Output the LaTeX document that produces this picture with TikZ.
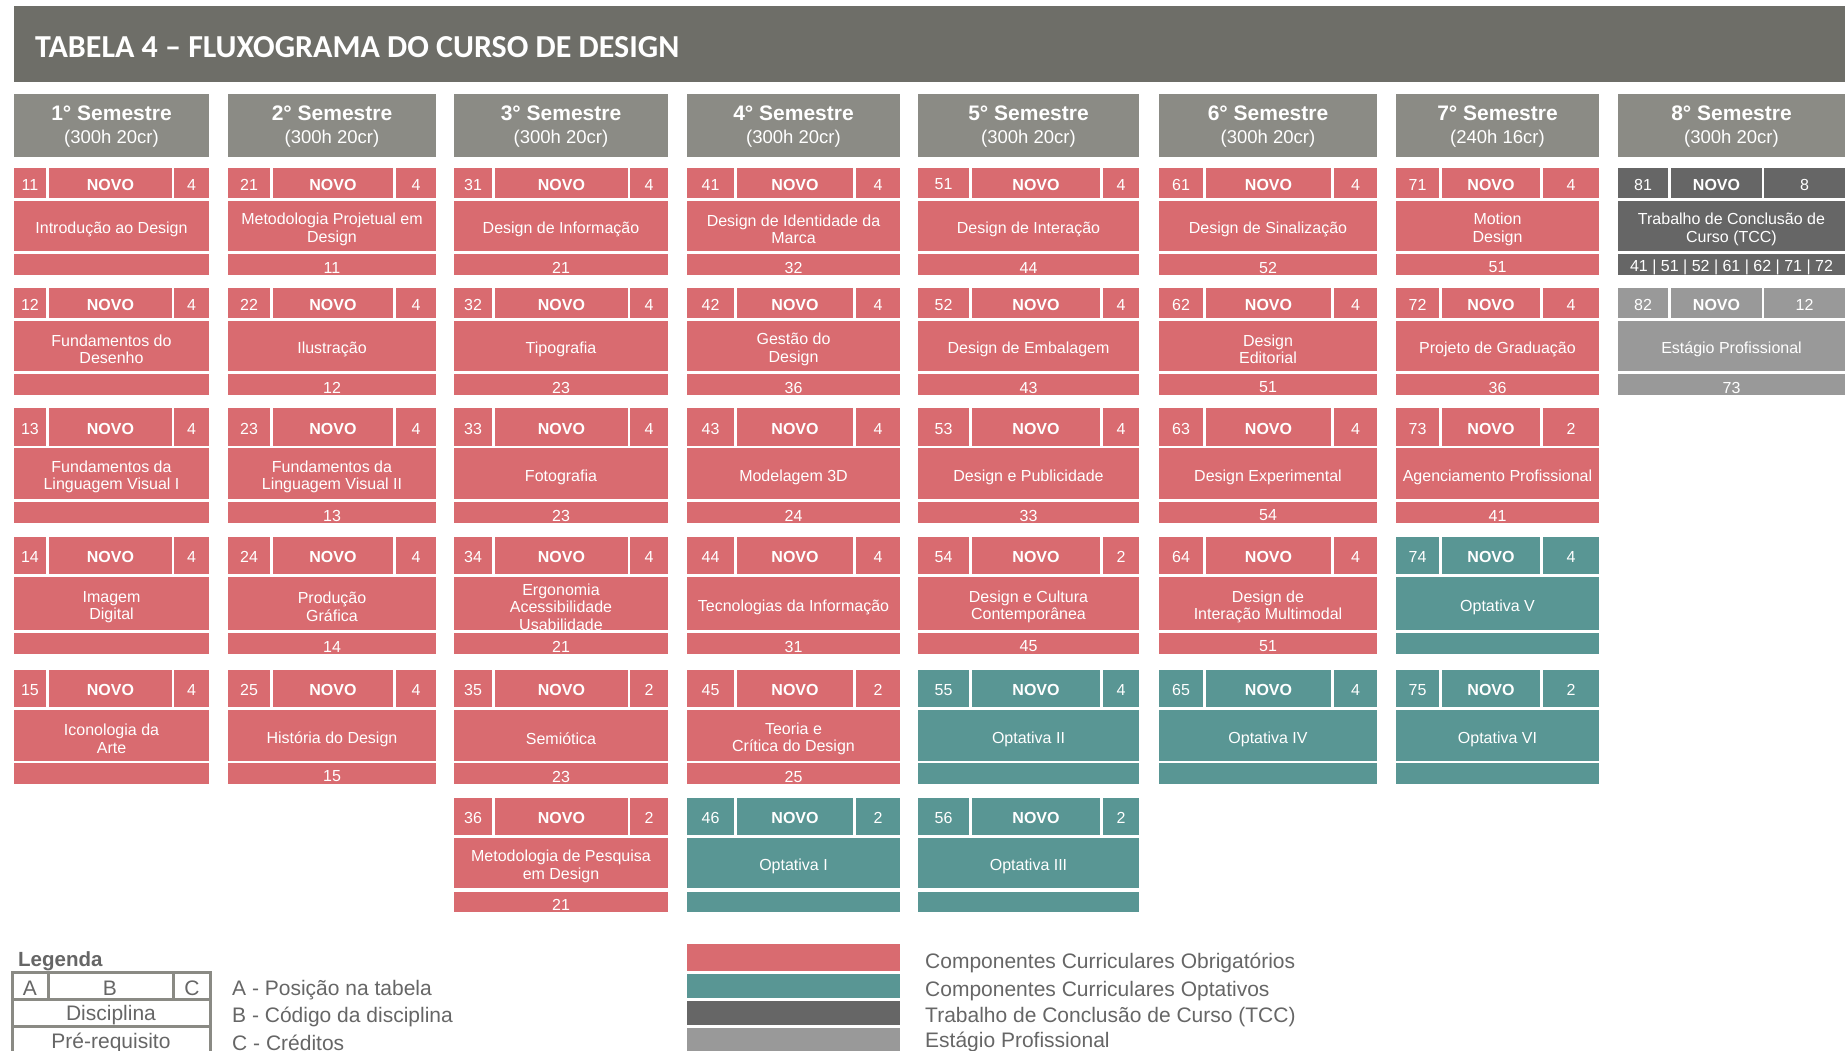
\documentclass[tikz,border=0pt]{standalone}
\usepackage{fontspec}
\setmainfont{Liberation Sans}
\newfontfamily\titlefont{Carlito}
\definecolor{obr}{RGB}{217,107,112}
\definecolor{opt}{RGB}{89,150,148}
\definecolor{tcc}{RGB}{102,102,102}
\definecolor{est}{RGB}{153,153,153}
\definecolor{hdr}{RGB}{139,139,133}
\definecolor{ttl}{RGB}{110,110,104}
\definecolor{legtxt}{RGB}{102,102,102}
\definecolor{legline}{RGB}{138,138,132}
\tikzset{
  cell/.style={anchor=north west, inner sep=0pt, outer sep=0pt, draw=none},
  celltext/.style={inner sep=0pt, text=white, align=center, font=\fontsize{16}{17.5}\selectfont},
  boldtext/.style={celltext, font=\fontsize{16}{17.5}\selectfont\bfseries},
  hdrtext/.style={celltext, font=\fontsize{18.5}{23}\selectfont},
  legtext/.style={anchor=west, inner sep=0pt, text=legtxt, font=\fontsize{21}{24}\selectfont},
  legcell/.style={inner sep=0pt, text=legtxt, font=\fontsize{21}{24}\selectfont},
  swatch/.style={anchor=north west, inner sep=0pt, outer sep=0pt, draw=none},
  legrule/.style={draw=legline, line width=3pt}
}
\newcommand\setcol[6]{\def\xA{#1}\def\xB{#2}\def\xC{#3}\def\xD{#4}\def\xE{#5}\def\xF{#6}}
\newcommand\setrow[6]{\def\yA{#1}\def\yB{#2}\def\yC{#3}\def\yD{#4}\def\yE{#5}\def\yF{#6}}
\newcommand\rowI{\setrow{168}{198}{201}{251}{254}{275}}
\newcommand\rowII{\setrow{288}{318}{321}{371}{374}{395}}
\newcommand\rowIII{\setrow{408}{446}{448}{499}{502}{523}}
\newcommand\rowIV{\setrow{537}{574}{577}{630}{633}{654}}
\newcommand\rowV{\setrow{670}{707}{710}{761}{763}{784}}
\newcommand\rowVI{\setrow{798}{835}{838}{888}{892}{912}}
% #1 id, #2 credits, #3 name, #4 prerequisite, #5 colour
\newcommand\course[5]{%
  \node[cell, fill=#5, minimum width={(\xB-\xA)*1pt}, minimum height={(\yB-\yA)*1pt}] (a#1) at (\xA,\yA) {};
  \node[cell, fill=#5, minimum width={(\xD-\xC)*1pt}, minimum height={(\yB-\yA)*1pt}] (b#1) at (\xC,\yA) {};
  \node[cell, fill=#5, minimum width={(\xF-\xE)*1pt}, minimum height={(\yB-\yA)*1pt}] (c#1) at (\xE,\yA) {};
  \node[cell, fill=#5, minimum width={(\xF-\xA)*1pt}, minimum height={(\yD-\yC)*1pt}] (d#1) at (\xA,\yC) {};
  \node[cell, fill=#5, minimum width={(\xF-\xA)*1pt}, minimum height={(\yF-\yE)*1pt}] (p#1) at (\xA,\yE) {};
  \node[celltext, yshift=-1.5pt] (ta#1) at (a#1.center) {#1};
  \node[boldtext, yshift=-1.5pt] (tb#1) at (b#1.center) {NOVO};
  \node[celltext, yshift=-1.5pt] (tc#1) at (c#1.center) {#2};
  \node[celltext, yshift=-3.5pt] (td#1) at (d#1.center) {#3};
  \node[celltext, yshift=-3pt] (tp#1) at (p#1.center) {#4};
}
\newcommand\semhead[3]{%
  \node[cell, fill=hdr, minimum width={(\xF-\xA)*1pt}, minimum height=63pt] (h#1) at (\xA,94) {};
  \node[hdrtext, yshift=-1.5pt] (th#1) at (h#1.center) {{\fontsize{21}{23}\selectfont\bfseries #1° Semestre}\\(#2h #3cr)};
}
\begin{document}
\begin{tikzpicture}[x=1pt,y=-1pt]
\useasboundingbox (0,0) rectangle (1845,1050);
\clip (0,0) rectangle (1845,1050);
\fill[white] (0,0) rectangle (1845,1050);
% title
\node[swatch, fill=ttl, minimum width=1831pt, minimum height=76pt] (titlebar) at (14,6) {};
\node[anchor=west, inner sep=0pt, text=white, font=\titlefont\bfseries\fontsize{32}{36}\selectfont] (title) at (35,47) {TABELA 4 – FLUXOGRAMA DO CURSO DE DESIGN};
% column 1
\setcol{14}{46}{49}{172}{174}{209}
\semhead{1}{300}{20}
\rowI \course{11}{4}{Introdução ao Design}{}{obr}
\rowII \course{12}{4}{Fundamentos do\\Desenho}{}{obr}
\rowIII \course{13}{4}{Fundamentos da\\Linguagem Visual I}{}{obr}
\rowIV \course{14}{4}{Imagem\\Digital}{}{obr}
\rowV \course{15}{4}{Iconologia da\\Arte}{}{obr}
% column 2
\setcol{228}{270}{273}{393}{396}{436}
\semhead{2}{300}{20}
\rowI \course{21}{4}{Metodologia Projetual em\\Design}{11}{obr}
\rowII \course{22}{4}{Ilustração}{12}{obr}
\rowIII \course{23}{4}{Fundamentos da\\Linguagem Visual II}{13}{obr}
\rowIV \course{24}{4}{Produção\\Gráfica}{14}{obr}
\rowV \course{25}{4}{História do Design}{15}{obr}
% column 3
\setcol{454}{492}{495}{628}{630}{668}
\semhead{3}{300}{20}
\rowI \course{31}{4}{Design de Informação}{21}{obr}
\rowII \course{32}{4}{Tipografia}{23}{obr}
\rowIII \course{33}{4}{Fotografia}{23}{obr}
\rowIV \course{34}{4}{Ergonomia\\Acessibilidade\\Usabilidade}{21}{obr}
\rowV \course{35}{2}{Semiótica}{23}{obr}
\rowVI \course{36}{2}{Metodologia de Pesquisa\\em Design}{21}{obr}
% column 4
\setcol{687}{734}{737}{853}{856}{900}
\semhead{4}{300}{20}
\rowI \course{41}{4}{Design de Identidade da\\Marca}{32}{obr}
\rowII \course{42}{4}{Gestão do\\Design}{36}{obr}
\rowIII \course{43}{4}{Modelagem 3D}{24}{obr}
\rowIV \course{44}{4}{Tecnologias da Informação}{31}{obr}
\rowV \course{45}{2}{Teoria e\\Crítica do Design}{25}{obr}
\rowVI \course{46}{2}{Optativa I}{}{opt}
% column 5
\setcol{918}{969}{972}{1100}{1103}{1139}
\semhead{5}{300}{20}
\rowI \course{51}{4}{Design de Interação}{44}{obr}
\rowII \course{52}{4}{Design de Embalagem}{43}{obr}
\rowIII \course{53}{4}{Design e Publicidade}{33}{obr}
\rowIV \course{54}{2}{Design e Cultura\\Contemporânea}{45}{obr}
\rowV \course{55}{4}{Optativa II}{}{opt}
\rowVI \course{56}{2}{Optativa III}{}{opt}
% column 6
\setcol{1159}{1203}{1206}{1331}{1334}{1377}
\semhead{6}{300}{20}
\rowI \course{61}{4}{Design de Sinalização}{52}{obr}
\rowII \course{62}{4}{Design\\Editorial}{51}{obr}
\rowIII \course{63}{4}{Design Experimental}{54}{obr}
\rowIV \course{64}{4}{Design de\\Interação Multimodal}{51}{obr}
\rowV \course{65}{4}{Optativa IV}{}{opt}
% column 7
\setcol{1396}{1439}{1442}{1540}{1543}{1599}
\semhead{7}{240}{16}
\rowI \course{71}{4}{Motion\\Design}{51}{obr}
\rowII \course{72}{4}{Projeto de Graduação}{36}{obr}
\rowIII \course{73}{2}{Agenciamento Profissional}{41}{obr}
\rowIV \course{74}{4}{Optativa V}{}{opt}
\rowV \course{75}{2}{Optativa VI}{}{opt}
% column 8
\setcol{1618}{1668}{1671}{1762}{1764}{1845}
\semhead{8}{300}{20}
\rowI \course{81}{8}{Trabalho de Conclusão de\\Curso (TCC)}{41 | 51 | 52 | 61 | 62 | 71 | 72}{tcc}
\rowII \course{82}{12}{Estágio Profissional}{73}{est}
% legend
\node[anchor=west, inner sep=0pt, text=legtxt, font=\fontsize{20.5}{24}\selectfont\bfseries] (legenda) at (18,961) {Legenda};
\draw[legrule] (12,1060) -- (12,972) -- (210,972) -- (210,1060);
\draw[legrule] (12,999) -- (210,999);
\draw[legrule] (12,1026) -- (210,1026);
\draw[legrule] (48,972) -- (48,999);
\draw[legrule] (173,972) -- (173,999);
\node[legcell] (legA) at (30,988) {A};
\node[legcell] (legB) at (110,988) {B};
\node[legcell] (legC) at (192,988) {C};
\node[legcell] (legD) at (111,1015.5) {Disciplina};
\node[legcell] (legP) at (111,1042.5) {Pré-requisito};
\node[legtext] (ltA) at (232,990) {A - Posição na tabela};
\node[legtext] (ltB) at (232,1016.5) {B - Código da disciplina};
\node[legtext] (ltC) at (232,1042.5) {C - Créditos};
\node[swatch, fill=obr, minimum width=213pt, minimum height=27pt] (swO) at (687,944) {};
\node[swatch, fill=opt, minimum width=213pt, minimum height=24pt] (swP) at (687,974) {};
\node[swatch, fill=tcc, minimum width=213pt, minimum height=24pt] (swT) at (687,1001) {};
\node[swatch, fill=est, minimum width=213pt, minimum height=24pt] (swE) at (687,1028) {};
\node[legtext] (txO) at (925,963) {Componentes Curriculares Obrigatórios};
\node[legtext] (txP) at (925,991) {Componentes Curriculares Optativos};
\node[legtext] (txT) at (925,1017) {Trabalho de Conclusão de Curso (TCC)};
\node[legtext] (txE) at (925,1042) {Estágio Profissional};
\end{tikzpicture}
\end{document}
